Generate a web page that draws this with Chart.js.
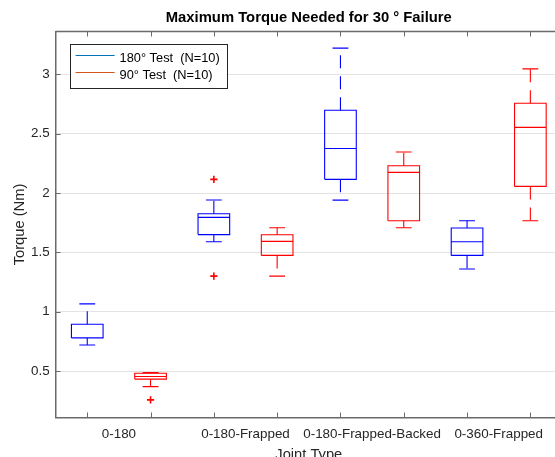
<!DOCTYPE html>
<html><head><meta charset="utf-8">
<script src="https://cdn.jsdelivr.net/npm/chart.js@4/dist/chart.umd.min.js"></script>
<style>
html,body{margin:0;padding:0;overflow:hidden;background:#fff;width:555px;height:457px}
#wrap{width:555px;height:457px;overflow:hidden;position:relative}
canvas{position:absolute;left:0;top:0}
</style></head>
<body><div id="wrap"><canvas id="c" width="618" height="470"></canvas></div>
<script>
// ---- data ----
const chartTitle = 'Maximum Torque Needed for 30 ° Failure';
const categories = ['0-180', '0-180-Frapped', '0-180-Frapped-Backed', '0-360-Frapped'];
const seriesNames = ['180° Test  (N=10)', '90° Test  (N=10)'];
const yTicks = [0.5, 1, 1.5, 2, 2.5, 3];

const test180Low     = [0.72, 1.59, 1.94, 1.36];
const test180Q1      = [0.78, 1.65, 2.115, 1.475];
const test180Median  = [0.78, 1.795, 2.375, 1.59];
const test180Q3      = [0.895, 1.826, 2.697, 1.705];
const test180High    = [1.067, 1.941, 3.22, 1.767];
const test180Outliers = [[], [2.115, 1.30], [], []];

const test90Low      = [0.37, 1.30, 1.708, 1.767];
const test90Q1       = [0.433, 1.475, 1.767, 2.056];
const test90Median   = [0.455, 1.593, 2.174, 2.553];
const test90Q3       = [0.483, 1.649, 2.230, 2.756];
const test90High     = [0.488, 1.708, 2.345, 3.045];
const test90Outliers = [[0.258], [], [], []];

// ---- styling ----
const FONT = "'Liberation Sans', Arial, Helvetica, sans-serif";
const TXT = '#262626';
const AX = '#6a6a6a';
const GRID = '#e3e3e3';
const BOX_COLORS = ['#0000ff', '#ff0000'];
const LEGEND_COLORS = ['#0072BD', '#D95319'];
const OUTLIER_COLOR = '#ff0000';
const BOX_HALF = 0.25, CAP_HALF = 0.125;

const series = [
  {low: test180Low, q1: test180Q1, med: test180Median, q3: test180Q3, high: test180High, out: test180Outliers},
  {low: test90Low,  q1: test90Q1,  med: test90Median,  q3: test90Q3,  high: test90High,  out: test90Outliers}
];
const pos = (g, s) => g * 2 + s + 1;

function boxPoints(s, si) {
  const pts = [];
  s.q1.forEach((_, g) => {
    const x = pos(g, si);
    pts.push({x: x - BOX_HALF, y: s.q1[g]}, {x: x + BOX_HALF, y: s.q1[g]},
             {x: x + BOX_HALF, y: s.q3[g]}, {x: x - BOX_HALF, y: s.q3[g]},
             {x: x - BOX_HALF, y: s.q1[g]}, {x: x, y: null},
             {x: x - BOX_HALF, y: s.med[g]}, {x: x + BOX_HALF, y: s.med[g]}, {x: x, y: null});
  });
  return pts;
}
function whiskerPoints(s, si) {
  const pts = [];
  s.q1.forEach((_, g) => {
    const x = pos(g, si);
    pts.push({x: x, y: s.q3[g]}, {x: x, y: s.high[g]}, {x: x, y: null},
             {x: x, y: s.q1[g]}, {x: x, y: s.low[g]}, {x: x, y: null});
  });
  return pts;
}
function capPoints(s, si) {
  const pts = [];
  s.q1.forEach((_, g) => {
    const x = pos(g, si);
    pts.push({x: x - CAP_HALF, y: s.high[g]}, {x: x + CAP_HALF, y: s.high[g]}, {x: x, y: null},
             {x: x - CAP_HALF, y: s.low[g]}, {x: x + CAP_HALF, y: s.low[g]}, {x: x, y: null});
  });
  return pts;
}
function outlierPoints(s, si) {
  const pts = [];
  s.out.forEach((arr, g) => arr.forEach(v => pts.push({x: pos(g, si), y: v})));
  return pts;
}

const datasets = [];
series.forEach((s, si) => {
  const col = BOX_COLORS[si];
  const base = {showLine: true, pointRadius: 0, borderWidth: 1.1, borderColor: col, backgroundColor: col,
                spanGaps: false, tension: 0, fill: false, borderJoinStyle: 'miter', borderCapStyle: 'butt'};
  datasets.push(Object.assign({label: seriesNames[si] + ' box', data: boxPoints(s, si)}, base));
  datasets.push(Object.assign({label: seriesNames[si] + ' whisker', data: whiskerPoints(s, si), borderDash: [13, 8]}, base));
  datasets.push(Object.assign({label: seriesNames[si] + ' cap', data: capPoints(s, si)}, base));
  datasets.push({label: seriesNames[si] + ' outliers', data: outlierPoints(s, si), showLine: false,
                 pointStyle: 'cross', pointRadius: 3.6, borderWidth: 1.6,
                 borderColor: OUTLIER_COLOR, backgroundColor: OUTLIER_COLOR});
});

const matlabAxes = {
  id: 'matlabAxes',
  afterDraw(chart) {
    const {ctx, chartArea: ca, scales: {x, y}} = chart;
    ctx.save();
    // title centred over the plot box
    ctx.fillStyle = '#000';
    ctx.font = 'bold 14.8px ' + FONT;
    ctx.textAlign = 'center';
    ctx.textBaseline = 'middle';
    ctx.fillText(chartTitle, (ca.left + ca.right) / 2, 18.3);
    // top box edge and inward ticks
    ctx.strokeStyle = AX; ctx.lineWidth = 1.5;
    ctx.beginPath(); ctx.moveTo(ca.left, ca.top); ctx.lineTo(ca.right, ca.top); ctx.stroke();
    ctx.lineWidth = 1;
    const tl = 5;
    for (let i = 1; i <= categories.length * 2; i++) {
      const px = Math.round(x.getPixelForValue(i)) + 0.5;
      ctx.beginPath(); ctx.moveTo(px, ca.bottom); ctx.lineTo(px, ca.bottom - tl);
      ctx.moveTo(px, ca.top); ctx.lineTo(px, ca.top + tl); ctx.stroke();
    }
    yTicks.forEach(v => {
      const py = Math.round(y.getPixelForValue(v)) + 0.5;
      ctx.beginPath(); ctx.moveTo(ca.left, py); ctx.lineTo(ca.left + tl, py); ctx.stroke();
    });
    // legend
    const lx = ca.left + 14, ly = ca.top + 12, lw = 157, lh = 44;
    ctx.fillStyle = '#fff';
    ctx.fillRect(lx, ly, lw, lh);
    ctx.strokeStyle = TXT; ctx.lineWidth = 1;
    ctx.strokeRect(Math.round(lx) + 0.5, Math.round(ly) + 0.5, lw, lh);
    ctx.font = '12.8px ' + FONT;
    ctx.textBaseline = 'alphabetic';
    ctx.textAlign = 'left';
    seriesNames.forEach((name, i) => {
      const rowY = Math.round(ly + 11.5 + i * 17) + 0.5;
      ctx.strokeStyle = LEGEND_COLORS[i]; ctx.lineWidth = 1;
      ctx.beginPath(); ctx.moveTo(lx + 6, rowY); ctx.lineTo(lx + 45, rowY); ctx.stroke();
      ctx.fillStyle = '#000';
      ctx.fillText(name, lx + 50, ly + 18.5 + i * 17.3);
    });
    ctx.restore();
  }
};

new Chart(document.getElementById('c'), {
  type: 'scatter',
  data: {datasets},
  options: {
    responsive: false,
    animation: false,
    devicePixelRatio: 1,
    events: [],
    layout: {padding: {left: 0, right: 56, top: 31.5, bottom: 0}},
    plugins: {
      legend: {display: false},
      tooltip: {enabled: false},
      title: {display: false}
    },
    scales: {
      x: {
        type: 'linear', min: 0.5, max: 8.5,
        grid: {display: true, drawOnChartArea: false, drawTicks: false},
        border: {display: true, color: AX, width: 1.5},
        afterBuildTicks: s => { s.ticks = categories.map((_, i) => ({value: 2 * i + 1.5})); },
        ticks: {autoSkip: false, maxRotation: 0, minRotation: 0, padding: 9, color: TXT,
                font: {family: FONT, size: 13.4}, callback: (v, i) => categories[i]},
        title: {display: true, text: 'Joint Type', color: TXT, font: {family: FONT, size: 14.7},
                padding: {top: 0, bottom: 6}},
        afterFit: s => { s.height = 52.5; }
      },
      y: {
        type: 'linear', min: 0.11, max: 3.36,
        afterBuildTicks: s => { s.ticks = yTicks.map(v => ({value: v})); },
        grid: {color: GRID, lineWidth: 1, drawTicks: false},
        border: {display: true, color: AX, width: 1.5},
        ticks: {padding: 6, color: TXT, font: {family: FONT, size: 13.4}, callback: v => String(v)},
        title: {display: true, text: 'Torque (Nm)', color: TXT, font: {family: FONT, size: 14.7},
                padding: {top: 11, bottom: 0}},
        afterFit: s => { s.width = 55.6; }
      }
    }
  },
  plugins: [matlabAxes]
});
</script>
</body></html>
